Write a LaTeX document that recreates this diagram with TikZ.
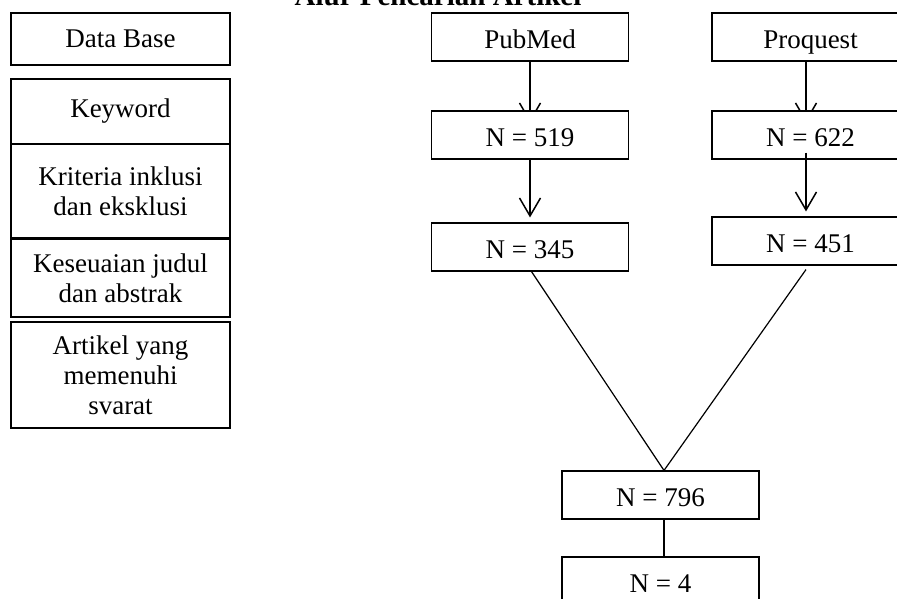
\documentclass[tikz,border=0pt]{standalone}
\usepackage{fontspec}
\setmainfont{Liberation Serif}
\usetikzlibrary{arrows.meta,backgrounds}
\begin{document}
\begin{tikzpicture}[x=1pt,y=-1pt,
  box/.style={draw,line width=1.1pt,fill=white,inner sep=0pt,align=center,
    font=\fontsize{27}{30}\selectfont},
  leftbox/.style={box,minimum width=219pt},
  flowbox/.style={box,minimum width=197pt,minimum height=48pt,text height=26pt,text depth=4pt},
  arr/.style={line width=1.5pt,-{Straight Barb[length=18pt,width=21pt,line width=1.5pt]}},
  conn/.style={line width=1.2pt}]
\useasboundingbox (0,0) rectangle (897,598);
\clip (0,0) rectangle (897,598);
% title
\node[anchor=base,inner sep=0pt,font=\fontsize{29}{32}\selectfont\bfseries] (title) at (438,5) {Alur Pencarian Artikel};
% left column
\node[leftbox,minimum height=52pt] (db) at (120.5,39) {Data Base};
\node[leftbox,minimum height=65pt] (kw) at (120.5,111.5) {Keyword};
\node[leftbox,minimum height=94pt] (kr) at (120.5,191) {Kriteria inklusi\\dan eksklusi};
\node[leftbox,minimum height=78pt] (ks) at (120.5,278) {Keseuaian judul\\dan abstrak};
\node[leftbox,minimum height=106pt] (ar) at (120.5,375) {Artikel yang\\memenuhi\\svarat};
% flow
\node[flowbox] (pub) at (530,37) {PubMed};
\node[flowbox] (n519) at (530,135) {N = 519};
\node[flowbox] (n345) at (530,247) {N = 345};
\node[flowbox] (pro) at (810.5,37) {Proquest};
\node[flowbox] (n622) at (810.5,135) {N = 622};
\node[flowbox] (n451) at (810.5,241) {N = 451};
\node[flowbox] (n796) at (660.5,495) {N = 796};
\node[flowbox] (n4) at (660.5,581) {N = 4};
\begin{scope}[on background layer]
\draw[arr] (pub.south) -- ([yshift=-12pt]n519.north);
\draw[arr] ([xshift=-4.5pt]pro.south) -- ([xshift=-4.5pt,yshift=-12pt]n622.north);
\end{scope}
\draw[arr] (n519.south) -- ([yshift=5pt]n345.north);
\draw[arr] ([xshift=-4.5pt,yshift=7pt]n622.south) -- ([xshift=-4.5pt,yshift=5pt]n451.north);
\draw[conn] ([xshift=1.5pt]n345.south) -- ([xshift=3.5pt]n796.north);
\draw[conn] ([xshift=-4.5pt,yshift=-4pt]n451.south) -- ([xshift=3.5pt]n796.north);
\draw[conn] ([xshift=3.5pt]n796.south) -- ([xshift=3.5pt]n4.north);
\end{tikzpicture}
\end{document}
